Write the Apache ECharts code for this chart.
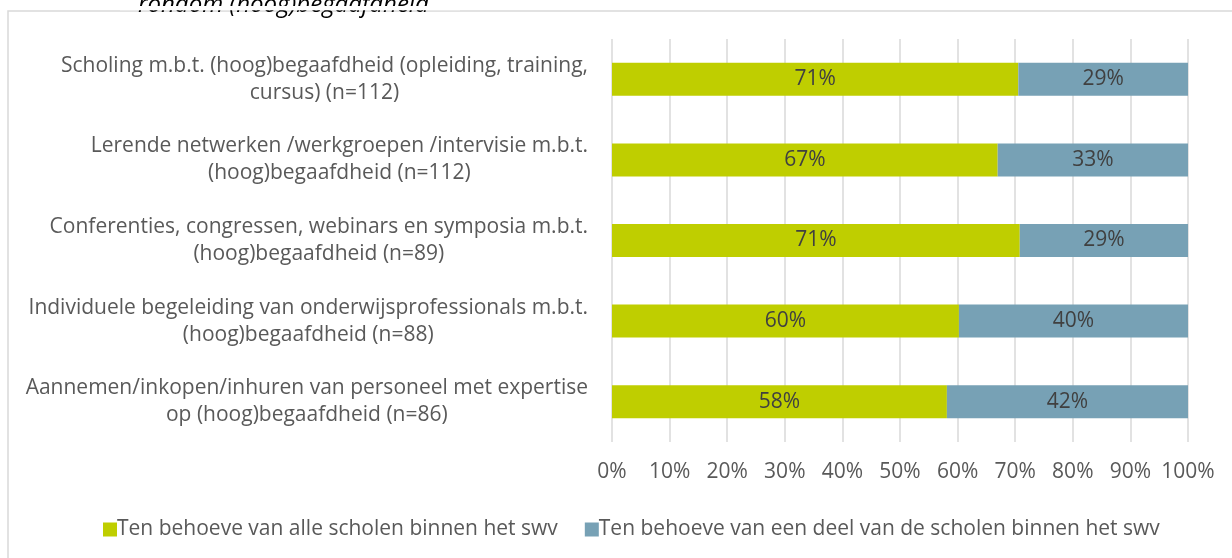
<!DOCTYPE html>
<html>
<head>
<meta charset="utf-8">
<script src="https://cdn.jsdelivr.net/npm/echarts@6/dist/echarts.min.js"></script>
<style>
html,body{margin:0;padding:0;background:#fff;}
#chart{width:1232px;height:558px;}
</style>
</head>
<body>
<div id="chart"></div>
<script>
const categories = [
  "Scholing m.b.t. (hoog)begaafdheid (opleiding, training,\ncursus) (n=112)",
  "Lerende netwerken /werkgroepen /intervisie m.b.t.\n(hoog)begaafdheid (n=112)",
  "Conferenties, congressen, webinars en symposia m.b.t.\n(hoog)begaafdheid (n=89)",
  "Individuele begeleiding van onderwijsprofessionals m.b.t.\n(hoog)begaafdheid (n=88)",
  "Aannemen/inkopen/inhuren van personeel met expertise\nop (hoog)begaafdheid (n=86)"
];
const seriesNames = [
  "Ten behoeve van alle scholen binnen het swv",
  "Ten behoeve van een deel van de scholen binnen het swv"
];
const alleScholen = [70.54, 66.96, 70.79, 60.23, 58.14];
const deelScholen = [29.46, 33.04, 29.21, 39.77, 41.86];
const xTicks = [0, 10, 20, 30, 40, 50, 60, 70, 80, 90, 100];
const titleText = "rondom (hoog)begaafdheid";

const FONT = "'Open Sans', sans-serif";
const FS = 21;
const chart = echarts.init(document.getElementById('chart'), null, {renderer: 'canvas'});
const labelCfg = {
  show: true,
  position: 'inside',
  color: '#404040',
  fontFamily: FONT,
  fontSize: FS,
  formatter: p => Math.round(p.value) + '%'
};
chart.setOption({
  animation: false,
  backgroundColor: '#fff',
  graphic: [
    {type: 'rect', z: -10, shape: {x: 8, y: 11, width: 1400, height: 800},
     style: {fill: 'none', stroke: '#D9D9D9', lineWidth: 1.5}},
    {type: 'text', x: 138, y: 5, z: 10,
     style: {text: titleText, font: "italic 24px 'Open Sans', sans-serif", fill: '#000', textVerticalAlign: 'middle', textAlign: 'left'}},
    {type: 'rect', z: 11, shape: {x: 120, y: 6, width: 340, height: 4.3},
     style: {fill: '#fff'}}
  ],
  grid: {left: 612, right: 44, top: 39, bottom: 116, containLabel: false},
  legend: {
    left: 98, top: 514,
    itemWidth: 14, itemHeight: 14, itemGap: 27,
    icon: 'rect',
    textStyle: {color: '#595959', fontFamily: FONT, fontSize: FS, padding: [0, 0, 0, -5]},
    data: seriesNames
  },
  xAxis: {
    type: 'value', min: 0, max: 100, interval: 10,
    axisLine: {show: false}, axisTick: {show: false},
    splitLine: {show: true, lineStyle: {color: '#D9D9D9', width: 1.5}},
    axisLabel: {color: '#595959', fontFamily: FONT, fontSize: FS, margin: 20,
      formatter: v => xTicks.includes(v) ? v + '%' : ''}
  },
  yAxis: {
    type: 'category', inverse: true, data: categories,
    axisLine: {show: false}, axisTick: {show: false},
    axisLabel: {
      color: '#595959', fontFamily: FONT, fontSize: FS, margin: 24, align: 'right', lineHeight: 27,
      formatter: v => v.split('\n').map(l => '{c|' + l + '}').join('\n'),
      rich: {c: {align: 'center', color: '#595959', fontFamily: FONT, fontSize: FS, lineHeight: 27}}
    }
  },
  series: [
    {name: seriesNames[0], type: 'bar', stack: 'a', data: alleScholen, barWidth: '41%',
     itemStyle: {color: '#BFCE00'}, label: labelCfg},
    {name: seriesNames[1], type: 'bar', stack: 'a', data: deelScholen, barWidth: '41%',
     itemStyle: {color: '#77A1B5'}, label: labelCfg}
  ]
});
</script>
</body>
</html>
